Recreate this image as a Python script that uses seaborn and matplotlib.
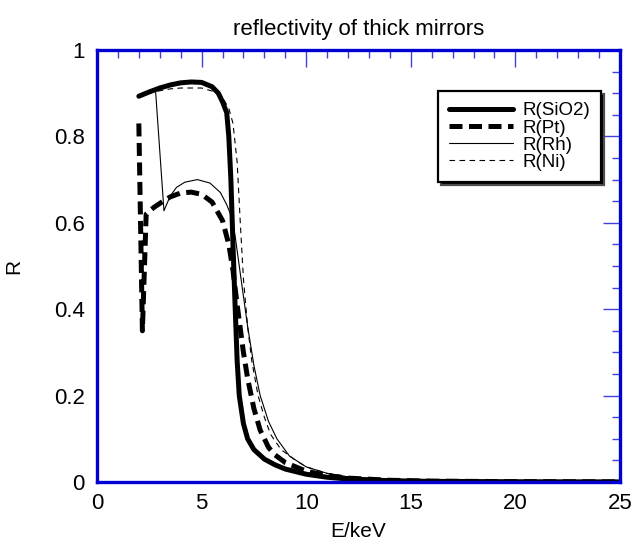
import numpy as np
import pandas as pd
import seaborn as sns
import matplotlib
matplotlib.use("Agg")
import matplotlib.pyplot as plt
from matplotlib.ticker import MultipleLocator

# ---- data ----
E_sio2 = [2.0, 2.5, 3.0, 3.5, 4.0, 4.5, 5.0, 5.5, 5.8, 6.0, 6.2, 6.3, 6.4, 6.5, 6.6, 6.7,
          6.8, 7.0, 7.2, 7.5, 8.0, 8.5, 9.0, 10, 11, 12, 14, 16, 20, 25]
R_sio2 = [0.893, 0.903, 0.912, 0.919, 0.924, 0.926, 0.925, 0.915, 0.900, 0.880, 0.855, 0.80,
          0.70, 0.55, 0.41, 0.28, 0.20, 0.135, 0.10, 0.075, 0.053, 0.04, 0.03, 0.018, 0.011,
          0.007, 0.003, 0.0015, 0.0006, 0.0002]

E_pt = [2.0, 2.17, 2.35, 2.7, 3.1, 3.5, 4.0, 4.5, 5.0, 5.5, 6.0, 6.3, 6.5, 6.7, 7.0, 7.2,
        7.5, 7.8, 8.2, 8.5, 9.0, 10, 11, 12, 14, 16, 20, 25]
R_pt = [0.83, 0.35, 0.62, 0.635, 0.648, 0.660, 0.669, 0.671, 0.666, 0.648, 0.605, 0.55,
        0.49, 0.41, 0.30, 0.24, 0.17, 0.12, 0.08, 0.063, 0.045, 0.025, 0.015, 0.009, 0.004,
        0.002, 0.0008, 0.0003]

E_rh = [2.0, 2.5, 2.8, 3.2, 3.5, 3.8, 4.2, 4.8, 5.4, 5.9, 6.2, 6.4, 6.6, 6.8, 7.0, 7.2,
        7.5, 7.8, 8.2, 8.6, 9.2, 10, 11, 12, 14, 16, 20, 25]
R_rh = [0.893, 0.900, 0.905, 0.628, 0.662, 0.682, 0.694, 0.700, 0.692, 0.670, 0.642, 0.618,
        0.57, 0.50, 0.43, 0.36, 0.27, 0.20, 0.14, 0.10, 0.06, 0.035, 0.02, 0.012, 0.005,
        0.0025, 0.001, 0.0004]

E_ni = [2.0, 2.7, 3.5, 4.0, 5.0, 5.5, 6.0, 6.3, 6.5, 6.7, 6.85, 7.0, 7.2, 7.4, 7.7, 8.0,
        8.3, 8.8, 9.5, 10, 11, 12, 14, 16, 20, 25]
R_ni = [0.89, 0.903, 0.91, 0.912, 0.912, 0.905, 0.89, 0.865, 0.83, 0.74, 0.60, 0.47, 0.36,
        0.28, 0.20, 0.15, 0.11, 0.075, 0.05, 0.035, 0.02, 0.012, 0.005, 0.0025, 0.001, 0.0004]

labels = ["R(SiO2)", "R(Pt)", "R(Rh)", "R(Ni)"]

# ---- figure ----
sns.set_theme(style="white")
plt.rcParams["font.family"] = ["Liberation Sans", "DejaVu Sans"]
plt.rcParams["text.color"] = "black"
plt.rcParams["axes.labelcolor"] = "black"

fig = plt.figure(figsize=(6.35, 5.54), dpi=100)
ax = fig.add_axes([97 / 635, 1 - 482 / 554, (620 - 97) / 635, (482 - 50) / 554])

series = [
    (E_sio2, R_sio2, labels[0], dict(lw=3.6, ls="-")),
    (E_pt, R_pt, labels[1], dict(lw=3.6, ls=(0, (2.6, 1.3)))),
    (E_rh, R_rh, labels[2], dict(lw=0.8, ls="-")),
    (E_ni, R_ni, labels[3], dict(lw=0.8, ls=(0, (5, 4)))),
]
for E, R, lab, st in series:
    df = pd.DataFrame({"E": E, "R": R})
    sns.lineplot(data=df, x="E", y="R", ax=ax, color="black", label=lab,
                 estimator=None, sort=False, linewidth=st["lw"], linestyle=st["ls"])

ax.set_xlim(0, 25)
ax.set_ylim(0, 1)
ax.xaxis.set_major_locator(MultipleLocator(5))
ax.xaxis.set_minor_locator(MultipleLocator(1))
ax.yaxis.set_major_locator(MultipleLocator(0.2))
ax.yaxis.set_minor_locator(MultipleLocator(0.05))
ax.set_yticks([0, 0.2, 0.4, 0.6, 0.8, 1.0])
ax.set_yticklabels(["0", "0.2", "0.4", "0.6", "0.8", "1"])

blue = "#0000d2"
for sp in ax.spines.values():
    sp.set_color(blue)
    sp.set_linewidth(2.4)
    sp.set_visible(True)
ax.tick_params(which="both", direction="in", top=True, right=True, color="#4040e0",
               width=1.0, labelsize=16, labelcolor="black")
ax.tick_params(which="major", length=12, pad=8)
ax.tick_params(which="minor", length=5.5)
ax.tick_params(axis="y", which="major", pad=9)

ax.set_xlabel("E/keV", fontsize=15, labelpad=6, color="black")
ax.set_ylabel("R", fontsize=15, labelpad=22, color="black")
ax.set_title("reflectivity of thick mirrors", fontsize=16, pad=11, color="black")
ax.grid(False)

leg = ax.legend(loc="upper left", bbox_to_anchor=(0.652, 0.905), frameon=True,
                fancybox=False, shadow={"fc": "black", "alpha": 1.0},
                fontsize=13.5, labelspacing=0.0, handlelength=3.4, handletextpad=0.5,
                borderpad=0.6, borderaxespad=0)
for t in leg.get_texts():
    t.set_color("black")
fr = leg.get_frame()
fr.set_edgecolor("black")
fr.set_linewidth(1.6)
fr.set_facecolor("white")
fr.set_alpha(1)

fig.savefig("out.png", dpi=100)
